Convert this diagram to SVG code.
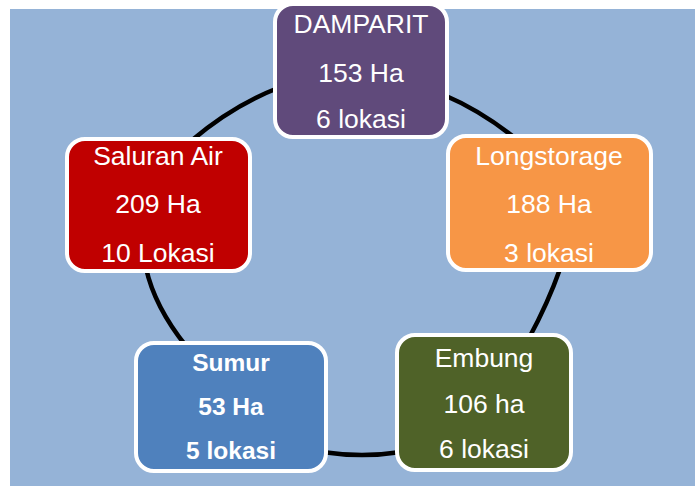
<svg xmlns="http://www.w3.org/2000/svg" width="695" height="486" viewBox="0 0 695 486">
<style>
.node rect{stroke:#FFFFFF;stroke-width:4}
.node text{fill:#FFFFFF;font-family:"Liberation Sans",Arial,sans-serif;font-size:26.5px;text-anchor:middle}
.bold text{font-weight:bold;font-size:24.5px}
.conn path{fill:none;stroke:#000000;stroke-width:4.5}
</style>
<rect x="10" y="9" width="685" height="477" fill="#95B3D7"/>
<g id="connectors" class="conn">
<path d="M278,88 Q232,106 191,141"/>
<path d="M146,268 Q154.5,306.5 186,346"/>
<path d="M322,452 Q362.5,458 401,452"/>
<path d="M529,338 Q548,303 560,269"/>
<path d="M515,138 Q480.5,110.5 444,95"/>
</g>
<g id="damparit" class="node">
<rect x="275" y="4" width="172" height="133" rx="18" fill="#604A7B"/>
<text x="361" y="33">DAMPARIT</text>
<text x="361" y="82">153 Ha</text>
<text x="361" y="128">6 lokasi</text>
</g>
<g id="saluran-air" class="node">
<rect x="67" y="139" width="183" height="132" rx="18" fill="#C00000"/>
<text x="158" y="165">Saluran Air</text>
<text x="158" y="213">209 Ha</text>
<text x="158" y="262">10 Lokasi</text>
</g>
<g id="longstorage" class="node">
<rect x="448" y="136" width="203" height="134" rx="18" fill="#F79646"/>
<text x="549" y="165">Longstorage</text>
<text x="549" y="213">188 Ha</text>
<text x="549" y="262">3 lokasi</text>
</g>
<g id="embung" class="node">
<rect x="397" y="335" width="174" height="135" rx="18" fill="#4F6228"/>
<text x="484" y="367">Embung</text>
<text x="484" y="413">106 ha</text>
<text x="484" y="458">6 lokasi</text>
</g>
<g id="sumur" class="node bold">
<rect x="136" y="343" width="190" height="128" rx="18" fill="#4F81BD"/>
<text x="231" y="371">Sumur</text>
<text x="231" y="415">53 Ha</text>
<text x="231" y="459">5 lokasi</text>
</g>
</svg>
